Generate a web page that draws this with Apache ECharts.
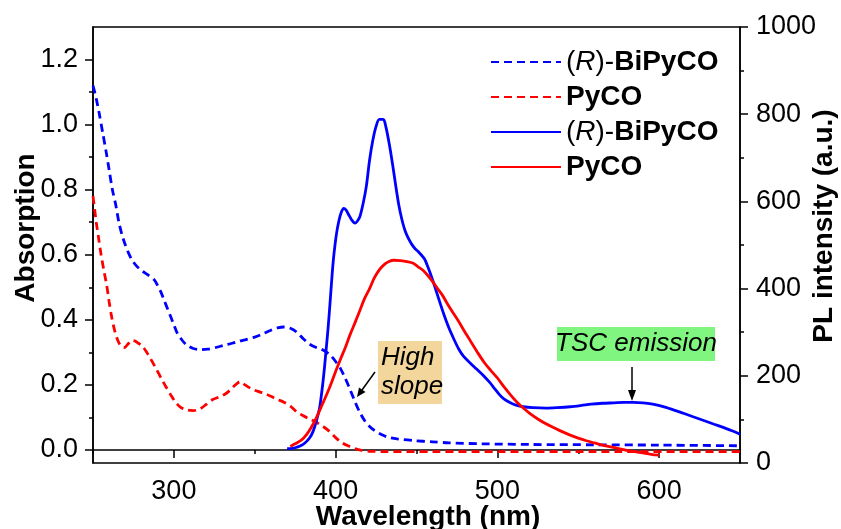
<!DOCTYPE html>
<html>
<head>
<meta charset="utf-8">
<script src="https://cdn.jsdelivr.net/npm/echarts@6.0.0/dist/echarts.min.js"></script>
<style>
  html, body { margin: 0; padding: 0; background: #fff; }
  #chart { width: 841px; height: 529px; }
</style>
</head>
<body>
<div id="chart"></div>
<script>
// absorption, (R)-BiPyCO
const absRWl = [250, 252, 254, 256, 258, 260, 262, 264, 266, 268, 270, 272, 274, 277, 280, 284, 288, 290, 292, 294, 296, 298, 300, 302, 305, 308, 312, 316, 321, 326, 331, 336, 340, 345, 350, 355, 360, 364, 368, 372, 376, 380, 384, 388, 391, 394, 397, 400, 403, 406, 409, 412, 415, 418, 421, 424, 428, 432, 438, 448, 460, 470, 490, 520, 560, 600, 650];
const absR = [1.12, 1.08, 1.03, 0.975, 0.92, 0.86, 0.80, 0.755, 0.70, 0.66, 0.63, 0.605, 0.585, 0.565, 0.552, 0.538, 0.522, 0.505, 0.485, 0.46, 0.435, 0.41, 0.385, 0.36, 0.338, 0.322, 0.312, 0.308, 0.31, 0.315, 0.322, 0.328, 0.334, 0.34, 0.347, 0.357, 0.368, 0.375, 0.378, 0.374, 0.362, 0.342, 0.325, 0.315, 0.31, 0.302, 0.29, 0.272, 0.25, 0.22, 0.185, 0.148, 0.115, 0.09, 0.072, 0.06, 0.048, 0.04, 0.034, 0.029, 0.025, 0.022, 0.019, 0.017, 0.016, 0.015, 0.013];

// absorption, PyCO
const absPWl = [250, 251, 252, 253.5, 255, 256.6, 258.5, 260, 261.5, 263.5, 265.5, 267.5, 269.5, 271.5, 274, 276, 278, 280, 283, 286, 289, 292, 295, 298, 301, 304, 308, 312, 316, 320, 324, 328, 332, 335, 338, 341, 344, 348, 352, 356, 360, 364, 368, 372, 376, 380, 384, 388, 392, 396, 400, 404, 408, 412, 416, 422, 430, 460, 500, 560, 650];
const absP = [0.78, 0.74, 0.70, 0.65, 0.60, 0.555, 0.505, 0.455, 0.41, 0.365, 0.335, 0.318, 0.315, 0.325, 0.337, 0.335, 0.328, 0.322, 0.302, 0.277, 0.25, 0.222, 0.195, 0.17, 0.147, 0.132, 0.123, 0.121, 0.126, 0.14, 0.155, 0.163, 0.173, 0.185, 0.2, 0.21, 0.2, 0.188, 0.18, 0.174, 0.165, 0.155, 0.147, 0.135, 0.117, 0.105, 0.095, 0.085, 0.073, 0.058, 0.038, 0.022, 0.012, 0.004, -0.001, -0.004, -0.005, -0.005, -0.005, -0.005, -0.005];

// PL, (R)-BiPyCO
const plRWl = [370, 372, 375, 378, 381, 384, 386, 388, 390, 391, 392, 393, 394, 395, 396, 397, 398, 399, 400.5, 402, 403.5, 405, 406.5, 408, 410, 412, 413.5, 415, 417, 419, 421, 423, 425, 427, 429.5, 431, 433, 435, 437, 439, 441, 443, 445, 447, 449, 451, 453, 455, 457, 459, 461, 463, 465, 467, 470, 473, 476, 479, 483, 487, 491, 495, 498, 501, 504, 508, 512, 516, 522, 530, 537, 545, 552, 558, 565, 572, 578, 584, 590, 596, 602, 608, 615, 621, 628, 634, 640, 645, 650];
const plR = [33, 33, 35, 39, 46, 58, 72, 95, 125, 150, 180, 215, 255, 295, 340, 390, 440, 480, 525, 555, 575, 584, 580, 570, 557, 550, 555, 565, 595, 635, 695, 740, 772, 788, 788, 772, 735, 690, 640, 593, 558, 532, 515, 502, 492, 485, 477, 468, 450, 430, 408, 385, 362, 340, 310, 285, 262, 245, 230, 216, 202, 186, 172, 158, 147, 138, 132, 129, 127, 126, 127, 129, 132, 135, 137, 138, 139, 139, 138, 135, 130, 123, 114, 106, 97, 89, 81, 74, 66];

// PL, PyCO
const plPWl = [372, 375, 379, 382, 385, 388, 391, 394, 397, 400, 403, 406, 409, 412, 415, 418, 421, 424, 427, 430, 433, 436, 440, 444, 448, 451, 454, 457, 460, 463, 466, 469, 472, 476, 480, 484, 488, 492, 496, 500, 504, 508, 512, 516, 520, 525, 530, 535, 540, 545, 550, 555, 560, 565, 570, 575, 580, 585, 590, 595, 600];
const plP = [38, 44, 53, 65, 82, 103, 128, 153, 180, 210, 238, 265, 295, 322, 350, 378, 400, 425, 443, 455, 462, 465, 464, 462, 458, 450, 442, 430, 416, 400, 385, 366, 348, 325, 300, 276, 252, 230, 212, 195, 175, 157, 140, 126, 114, 101, 90, 81, 72, 64, 57, 51, 46, 41, 37, 33, 29, 26, 23, 20, 18];

// ticks
const xMajor = [300, 400, 500, 600];
const xMinor = [250, 350, 450, 550, 650];
const yLeftMajor = [0, 0.2, 0.4, 0.6, 0.8, 1.0, 1.2];
const yLeftMinor = [0.1, 0.3, 0.5, 0.7, 0.9, 1.1];

const FONT = '"Liberation Sans", Arial, sans-serif';
const pairs = (xs, ys) => xs.map((x, i) => [x, ys[i]]);

const chart = echarts.init(document.getElementById('chart'));

const legendRich = {
  n: { fontSize: 28, fontFamily: FONT, color: '#000' },
  i: { fontSize: 28, fontFamily: FONT, fontStyle: 'italic', color: '#000' },
  b: { fontSize: 28, fontFamily: FONT, fontWeight: 'bold', color: '#000' }
};

const option = {
  animation: false,
  backgroundColor: '#fff',
  grid: {
    left: 93, right: 101, top: 27, bottom: 66,
    show: true, borderColor: '#000', borderWidth: 1.5, backgroundColor: 'transparent'
  },
  legend: {
    orient: 'vertical',
    left: 485,
    top: 43,
    itemWidth: 70,
    itemHeight: 14,
    itemGap: 7,
    data: ['absR', 'absP', 'plR', 'plP'],
    itemStyle: { opacity: 0 },
    formatter: function (name) {
      if (name === 'absR' || name === 'plR') return '{n|(}{i|R}{n|)-}{b|BiPyCO}';
      return '{b|PyCO}';
    },
    textStyle: { rich: legendRich, fontSize: 28, fontFamily: FONT }
  },
  xAxis: [
    {
      type: 'value', min: 250, max: 650,
      axisLine: { lineStyle: { color: '#000', width: 1.5 } },
      axisTick: { length: 8, lineStyle: { color: '#000', width: 1.5 }, customValues: xMajor },
      axisLabel: { customValues: xMajor, color: '#000', fontSize: 27, fontFamily: FONT, margin: 15 },
      splitLine: { show: false }
    },
    {
      type: 'value', min: 250, max: 650, position: 'bottom',
      axisLine: { show: false },
      axisTick: { length: 4, lineStyle: { color: '#000', width: 1.5 }, customValues: xMinor },
      axisLabel: { show: false },
      splitLine: { show: false }
    }
  ],
  yAxis: [
    {
      type: 'value', min: -0.04, max: 1.3, position: 'left',
      axisLine: { show: true, lineStyle: { color: '#000', width: 1.5 } },
      axisTick: { show: true, length: 8, lineStyle: { color: '#000', width: 1.5 }, customValues: yLeftMajor },
      axisLabel: {
        customValues: yLeftMajor, color: '#000', fontSize: 27, fontFamily: FONT, margin: 15,
        formatter: v => v.toFixed(1)
      },
      splitLine: { show: false }
    },
    {
      type: 'value', min: -0.04, max: 1.3, position: 'left',
      axisLine: { show: false },
      axisTick: { show: true, length: 4, lineStyle: { color: '#000', width: 1.5 }, customValues: yLeftMinor },
      axisLabel: { show: false },
      splitLine: { show: false }
    },
    {
      type: 'value', min: 0, max: 1000, interval: 200, position: 'right',
      axisLine: { show: true, lineStyle: { color: '#000', width: 1.5 } },
      axisTick: { show: true, length: 8, lineStyle: { color: '#000', width: 1.5 } },
      minorTick: { show: true, splitNumber: 2, length: 4, lineStyle: { color: '#000', width: 1.5 } },
      axisLabel: { color: '#000', fontSize: 27, fontFamily: FONT, margin: 16, formatter: v => String(v) },
      splitLine: { show: false }
    }
  ],
  series: [
    {
      name: 'absR', type: 'line', yAxisIndex: 0, symbol: 'none', smooth: 0.3,
      data: pairs(absRWl, absR),
      lineStyle: { color: '#0000ff', width: 2.8, type: [8, 5] },
      itemStyle: { color: '#0000ff' }
    },
    {
      name: 'absP', type: 'line', yAxisIndex: 0, symbol: 'none', smooth: 0.3,
      data: pairs(absPWl, absP),
      lineStyle: { color: '#ff0000', width: 2.8, type: [8, 5] },
      itemStyle: { color: '#ff0000' }
    },
    {
      name: 'plR', type: 'line', yAxisIndex: 2, symbol: 'none', smooth: 0.3,
      data: pairs(plRWl, plR),
      lineStyle: { color: '#0000ff', width: 2.8 },
      itemStyle: { color: '#0000ff' }
    },
    {
      name: 'plP', type: 'line', yAxisIndex: 2, symbol: 'none', smooth: 0.3,
      data: pairs(plPWl, plP),
      lineStyle: { color: '#ff0000', width: 2.8 },
      itemStyle: { color: '#ff0000' }
    }
  ],
  graphic: [
    // axis titles
    {
      type: 'text', x: 26, y: 228, rotation: Math.PI / 2,
      style: { text: 'Absorption', fontSize: 28, fontWeight: 'bold', fontFamily: FONT, fill: '#000', align: 'center', verticalAlign: 'middle' }
    },
    {
      type: 'text', x: 824, y: 226, rotation: Math.PI / 2,
      style: { text: 'PL intensity (a.u.)', fontSize: 28, fontWeight: 'bold', fontFamily: FONT, fill: '#000', align: 'center', verticalAlign: 'middle' }
    },
    {
      type: 'text', x: 428, y: 517,
      style: { text: 'Wavelength (nm)', fontSize: 28, fontWeight: 'bold', fontFamily: FONT, fill: '#000', align: 'center', verticalAlign: 'middle' }
    },
    // High slope annotation
    {
      type: 'rect', shape: { x: 378, y: 341, width: 64, height: 63 },
      style: { fill: '#f3d69c' }
    },
    {
      type: 'text', x: 381, y: 358,
      style: { text: 'High', fontSize: 26, fontStyle: 'italic', fontFamily: FONT, fill: '#000', align: 'left', verticalAlign: 'middle' }
    },
    {
      type: 'text', x: 381, y: 387,
      style: { text: 'slope', fontSize: 26, fontStyle: 'italic', fontFamily: FONT, fill: '#000', align: 'left', verticalAlign: 'middle' }
    },
    {
      type: 'line', shape: { x1: 375, y1: 372, x2: 362, y2: 390 },
      style: { stroke: '#000', lineWidth: 1.5 }
    },
    {
      type: 'polygon', shape: { points: [[357, 397], [365.5, 392], [359, 387.4]] },
      style: { fill: '#000' }
    },
    // TSC emission annotation
    {
      type: 'rect', shape: { x: 557, y: 327, width: 158, height: 34 },
      style: { fill: '#80f580' }
    },
    {
      type: 'text', x: 636, y: 344,
      style: { text: 'TSC emission', fontSize: 26, fontStyle: 'italic', fontFamily: FONT, fill: '#000', align: 'center', verticalAlign: 'middle' }
    },
    {
      type: 'line', shape: { x1: 632, y1: 367, x2: 632, y2: 391 },
      style: { stroke: '#000', lineWidth: 1.5 }
    },
    {
      type: 'polygon', shape: { points: [[632, 401], [628, 390], [636, 390]] },
      style: { fill: '#000' }
    }
  ]
};

chart.setOption(option);
</script>
</body>
</html>
